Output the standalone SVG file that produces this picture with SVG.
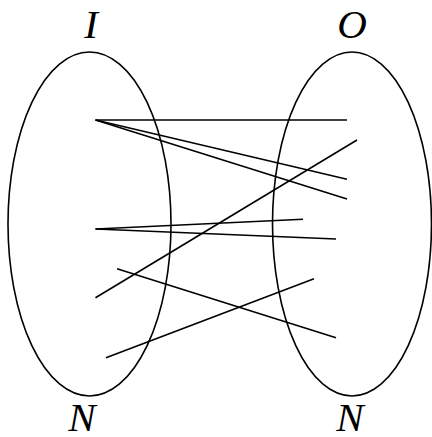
<svg xmlns="http://www.w3.org/2000/svg" width="432" height="437" viewBox="0 0 432 437">
<style>
.set{fill:none;stroke:#000;stroke-width:1.6}
.lbl{font-family:"Liberation Serif",serif;font-style:italic;font-size:41px;fill:#000;text-anchor:middle}
#links line{stroke:#000;stroke-width:1.6;stroke-linecap:butt}
</style>
<rect width="432" height="437" fill="#fff"/>
<g id="I">
<ellipse class="set" cx="89.5" cy="224" rx="81.5" ry="172"/>
<text class="lbl" x="91" y="38">I</text>
<text class="lbl" x="82" y="431">N</text>
</g>
<g id="O">
<ellipse class="set" cx="352" cy="224" rx="79.5" ry="172"/>
<text class="lbl" x="352" y="38">O</text>
<text class="lbl" x="350" y="431">N</text>
</g>
<g id="links">
<line x1="95.5" y1="120" x2="347" y2="120"/>
<line x1="95.5" y1="120" x2="347" y2="179.3"/>
<line x1="95.5" y1="120" x2="347" y2="199"/>
<line x1="357" y1="140" x2="95.5" y2="297.7"/>
<line x1="95.5" y1="229" x2="303" y2="219.3"/>
<line x1="95.5" y1="229" x2="336" y2="239"/>
<line x1="117" y1="268.7" x2="336" y2="337.7"/>
<line x1="106" y1="357.7" x2="314" y2="278.7"/>
</g>
</svg>
